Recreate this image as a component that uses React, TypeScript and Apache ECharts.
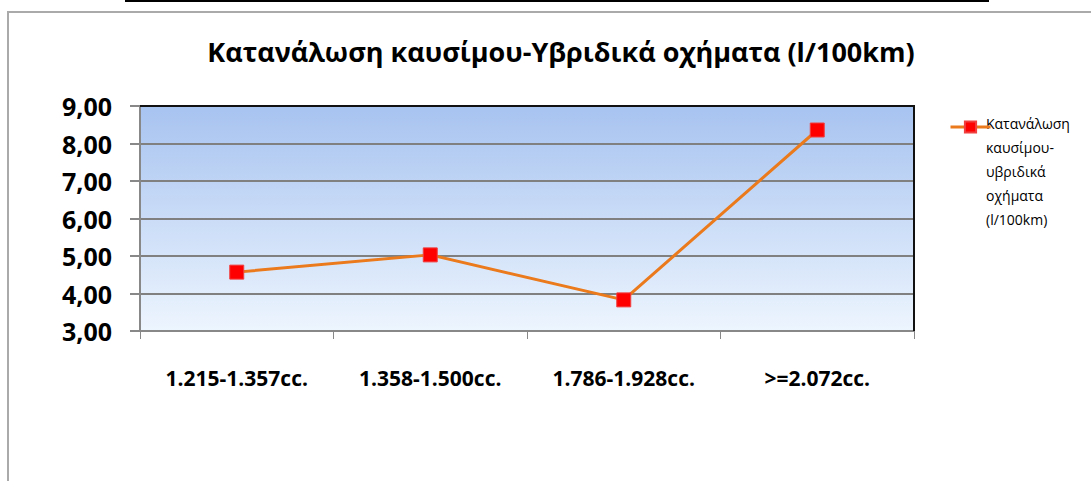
import React, { useEffect, useRef } from "react";
import * as echarts from "echarts";

const categories = ["1.215-1.357cc.", "1.358-1.500cc.", "1.786-1.928cc.", ">=2.072cc."];
const values = [4.57, 5.03, 3.83, 8.36];
const seriesName = "Κατανάλωση καυσίμου-υβριδικά οχήματα (l/100km)";
const legendLines = ["Κατανάλωση", "καυσίμου-", "υβριδικά", "οχήματα", "(l/100km)"];
const titleText = "Κατανάλωση καυσίμου-Υβριδικά οχήματα (l/100km)";

export default function App() {
  const ref = useRef<HTMLDivElement>(null);
  useEffect(() => {
    const chart = echarts.init(ref.current!, null, { renderer: "svg" });
    const font = "'Open Sans', sans-serif";
    chart.setOption({
      animation: false,
      backgroundColor: "#ffffff",
      title: {
        text: titleText,
        left: 556,
        top: 33,
        textAlign: "center",
        textStyle: { fontFamily: font, fontWeight: "bold", fontSize: 27, color: "#000" },
      },
      legend: {
        show: true,
        left: 944,
        top: 115,
        orient: "vertical",
        itemWidth: 40,
        itemHeight: 14,
        itemGap: 0,
        formatter: () => "",
        lineStyle: { width: 3 },
        data: [{ name: seriesName }],
      },
      grid: { left: 140, right: 177, top: 106, bottom: 150 },
      xAxis: {
        type: "category",
        data: categories,
        boundaryGap: true,
        axisLine: { show: true, lineStyle: { color: "#888", width: 2 } },
        axisTick: { show: true, interval: 0, length: 8, lineStyle: { color: "#888", width: 1 } },
        axisLabel: { interval: 0, fontFamily: font, fontWeight: "bold", fontSize: 21, color: "#000", margin: 36 },
        splitLine: { show: false },
      },
      yAxis: {
        type: "value",
        min: 3,
        max: 9,
        interval: 1,
        axisLine: { show: true, lineStyle: { color: "#888", width: 2 } },
        axisTick: { show: true, length: 10, lineStyle: { color: "#888", width: 2 } },
        axisLabel: {
          fontFamily: font,
          fontWeight: "bold",
          fontSize: 25,
          color: "#000",
          margin: 28,
          formatter: (v: number) => v.toFixed(2).replace(".", ","),
        },
        splitLine: { show: true, lineStyle: { color: "#808080", width: 2 } },
      },
      graphic: [
        {
          type: "rect",
          z: -10,
          shape: { x: 140, y: 106, width: 774, height: 225 },
          style: {
            fill: new echarts.graphic.LinearGradient(0, 0, 0, 1, [
              { offset: 0, color: "#a7c3f0" },
              { offset: 1, color: "#edf5fe" },
            ]),
            stroke: "none",
          },
        },
        {
          type: "polyline",
          z: 10,
          shape: { points: [[140, 106], [914, 106], [914, 331]] },
          style: { stroke: "#111", lineWidth: 2, fill: "none" },
        },
        {
          type: "rect",
          z: -20,
          shape: { x: 8, y: 12, width: 1100, height: 500 },
          style: { fill: "none", stroke: "#aaaaaa", lineWidth: 2 },
        },
        {
          type: "line",
          shape: { x1: 125, y1: 1, x2: 989, y2: 1 },
          style: { stroke: "#000", lineWidth: 2 },
        },
        {
          type: "text",
          x: 986,
          y: 111,
          style: {
            text: legendLines.join("\n"),
            fontFamily: font,
            fontSize: 14,
            lineHeight: 24,
            fill: "#000",
          },
        },
      ],
      series: [
        {
          name: seriesName,
          type: "line",
          data: values,
          symbol: "rect",
          symbolSize: 14,
          lineStyle: { color: "#ea7a1c", width: 3 },
          itemStyle: { color: "#ff0000", borderColor: "#f04040", borderWidth: 1 },
          z: 5,
        },
      ],
    });
    return () => chart.dispose();
  }, []);
  return <div ref={ref} style={{ position: "fixed", left: 0, top: 0, width: 1091, height: 481 }} />;
}
